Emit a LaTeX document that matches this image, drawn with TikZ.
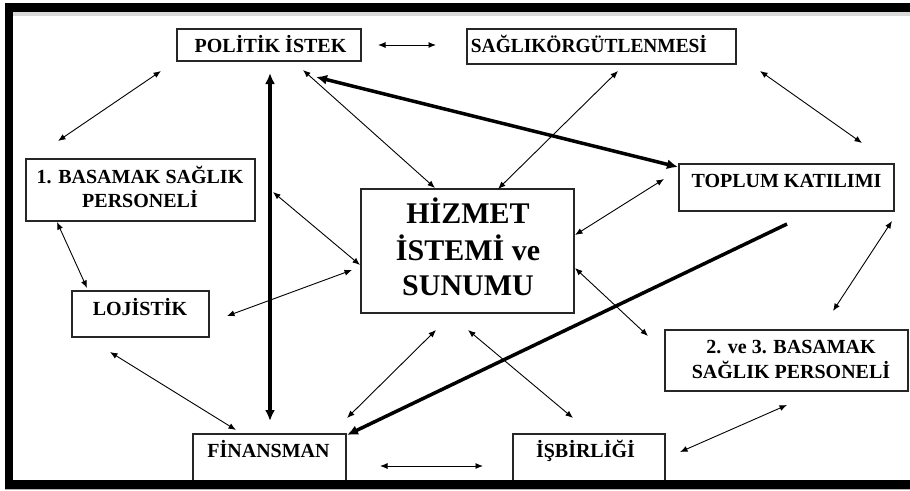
\documentclass[tikz,border=0pt]{standalone}
\usepackage{fontspec}
\setmainfont{Liberation Serif}
\usetikzlibrary{arrows.meta}
\begin{document}
\begin{tikzpicture}[x=1pt,y=-1pt,
  box/.style={draw=black!85, line width=1.3pt, fill=white, inner sep=0pt},
  lbl/.style={font=\bfseries\fontsize{20}{24}\selectfont, inner sep=0pt, anchor=base},
  biglbl/.style={font=\bfseries\fontsize{30}{36}\selectfont, inner sep=0pt, anchor=base},
  thinarr/.style={line width=0.9pt, {Latex[length=7.5pt,width=6pt]}-{Latex[length=7.5pt,width=6pt]}},
  thickarr/.style={line width=3.5pt, {Latex[length=11pt,width=10pt]}-{Latex[length=11pt,width=10pt]}},
  thickone/.style={line width=3.5pt, -{Latex[length=11pt,width=10pt]}},
  band/.style={fill=black}
]
\useasboundingbox (0,0) rectangle (910,490);
\fill[white] (0,0) rectangle (910,490);

% boxes
\node[box, minimum width=184pt, minimum height=32pt] (pol) at (269,45) {};
\node[box, minimum width=269pt, minimum height=35pt] (sag) at (601.5,46.5) {};
\node[box, minimum width=229pt, minimum height=62pt] (bas1) at (140.5,190) {};
\node[box, minimum width=137pt, minimum height=46pt] (loj) at (140.5,314) {};
\node[box, minimum width=213pt, minimum height=124pt] (hiz) at (467.5,251) {};
\node[box, minimum width=215pt, minimum height=47pt] (top) at (786.5,187.5) {};
\node[box, minimum width=243pt, minimum height=61pt] (bas23) at (786.5,360.5) {};
\node[box, minimum width=153pt, minimum height=50pt] (fin) at (269.5,459) {};
\node[box, minimum width=152pt, minimum height=50pt] (isb) at (589,459) {};

% labels
\node[lbl] (tpol) at (270.5,52) {POLİTİK İSTEK};
\node[lbl] (tsag) at (589,52) {\scalebox{0.97}[1]{SAĞLIKÖRGÜTLENMESİ}};
\node[lbl] (tbas1a) at (140,183) {1. BASAMAK SAĞLIK};
\node[lbl] (tbas1b) at (140,207) {PERSONELİ};
\node[lbl] (tloj) at (140,315) {LOJİSTİK};
\node[lbl] (ttop) at (786.5,187) {TOPLUM KATILIMI};
\node[biglbl] (thiza) at (468,223) {HİZMET};
\node[biglbl] (thizb) at (468,260) {İSTEMİ ve};
\node[biglbl] (thizc) at (468,295) {SUNUMU};
\node[lbl] (tb23a) at (791,353) {2. ve 3. BASAMAK};
\node[lbl] (tb23b) at (791,378) {SAĞLIK PERSONELİ};
\node[lbl] (tfin) at (268.5,457) {FİNANSMAN};
\node[lbl] (tisb) at (585.5,457) {İŞBİRLİĞİ};

% connector end points
\coordinate (c1a) at (378,45);  \coordinate (c1b) at (436,45);
\coordinate (c2a) at (161,71);  \coordinate (c2b) at (58,141);
\coordinate (c3a) at (760,71);  \coordinate (c3b) at (862,143);
\coordinate (c4a) at (57,222);  \coordinate (c4b) at (87,288);
\coordinate (c5a) at (892,221); \coordinate (c5b) at (833,311);
\coordinate (c6a) at (110,352); \coordinate (c6b) at (236,430);
\coordinate (c7a) at (787,405); \coordinate (c7b) at (680,452);
\coordinate (c8a) at (380,466); \coordinate (c8b) at (483,466);
\coordinate (c9a) at (270,73);  \coordinate (c9b) at (270,421);
\coordinate (c10a) at (316,77); \coordinate (c10b) at (678,167);
\coordinate (c11a) at (787,224); \coordinate (c11b) at (347,435);
\coordinate (c12a) at (303,70); \coordinate (c12b) at (435,188);
\coordinate (c13a) at (618,71); \coordinate (c13b) at (498,189);
\coordinate (c14a) at (575,235); \coordinate (c14b) at (664,179);
\coordinate (c15a) at (575,268); \coordinate (c15b) at (648,336);
\coordinate (c16a) at (273,192); \coordinate (c16b) at (360,265);
\coordinate (c17a) at (352,270); \coordinate (c17b) at (227,316);
\coordinate (c18a) at (436,330); \coordinate (c18b) at (347,418);
\coordinate (c19a) at (468,330); \coordinate (c19b) at (573,418);

\draw[thinarr] (c1a) -- (c1b);
\draw[thinarr] (c2a) -- (c2b);
\draw[thinarr] (c3a) -- (c3b);
\draw[thinarr] (c4a) -- (c4b);
\draw[thinarr] (c5a) -- (c5b);
\draw[thinarr] (c6a) -- (c6b);
\draw[thinarr] (c7a) -- (c7b);
\draw[thinarr] (c8a) -- (c8b);
\draw[thickarr] (c9a) -- (c9b);
\draw[thickarr] (c10a) -- (c10b);
\draw[thickone] (c11a) -- (c11b);
\draw[thinarr] (c12a) -- (c12b);
\draw[thinarr] (c13a) -- (c13b);
\draw[thinarr] (c14a) -- (c14b);
\draw[thinarr] (c15a) -- (c15b);
\draw[thinarr] (c16a) -- (c16b);
\draw[thinarr] (c17a) -- (c17b);
\draw[thinarr] (c18a) -- (c18b);
\draw[thinarr] (c19a) -- (c19b);

% frame
\fill[black!15] (13,12) rectangle (910,16);
\fill[band] (5,3) rectangle (910,12);
\fill[band] (5,3) rectangle (13,489);
\fill[band] (5,480) rectangle (910,489);
\fill[black!30] (5,489) rectangle (910,490);
\end{tikzpicture}
\end{document}
